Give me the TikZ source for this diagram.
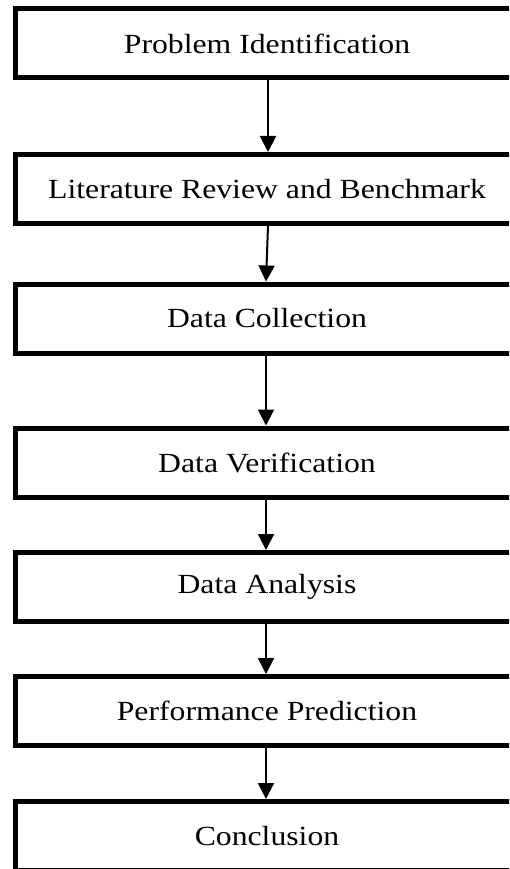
\documentclass[tikz,border=0pt]{standalone}
\usepackage{fontspec}
\newfontfamily\boxfont[FakeStretch=1.145]{Liberation Serif}
\usetikzlibrary{arrows.meta}
\tikzset{
  stepbox/.style={draw=black, line width=5pt, fill=white, minimum width=504pt, minimum height=69pt,
    inner sep=0pt, font=\boxfont\fontsize{27.7}{30}\selectfont, anchor=center},
  flow/.style={line width=2pt, -{Triangle[length=16pt,width=16pt]}}
}
\begin{document}
\begin{tikzpicture}[x=1pt,y=-1pt]
\fill[white] (0,0) rectangle (509,869);
\clip (0,0) rectangle (509,869);
\useasboundingbox (0,0) rectangle (509,869);
\node[stepbox] (b1) at (267,43.5) {Problem Identification};
\node[stepbox] (b2) at (267,189) {Literature Review and Benchmark};
\node[stepbox] (b3) at (267,318.5) {Data Collection};
\node[stepbox] (b4) at (267,462.5) {Data Verification};
\node[stepbox] (b5) at (267,587) {Data Analysis};
\node[stepbox] (b6) at (267,711) {Performance Prediction};
\node[stepbox] (b7) at (267,836) {Conclusion};
\draw[flow] ([xshift=1pt]b1.south) -- ([xshift=1pt]b2.north);
\draw[flow] ([xshift=1pt]b2.south) -- ([xshift=-1pt]b3.north);
\draw[flow] ([xshift=-1pt]b3.south) -- ([xshift=-1pt]b4.north);
\draw[flow] ([xshift=-1pt]b4.south) -- ([xshift=-1pt]b5.north);
\draw[flow] ([xshift=-1pt]b5.south) -- ([xshift=-1pt]b6.north);
\draw[flow] ([xshift=-1pt]b6.south) -- ([xshift=-1pt]b7.north);
\end{tikzpicture}
\end{document}
